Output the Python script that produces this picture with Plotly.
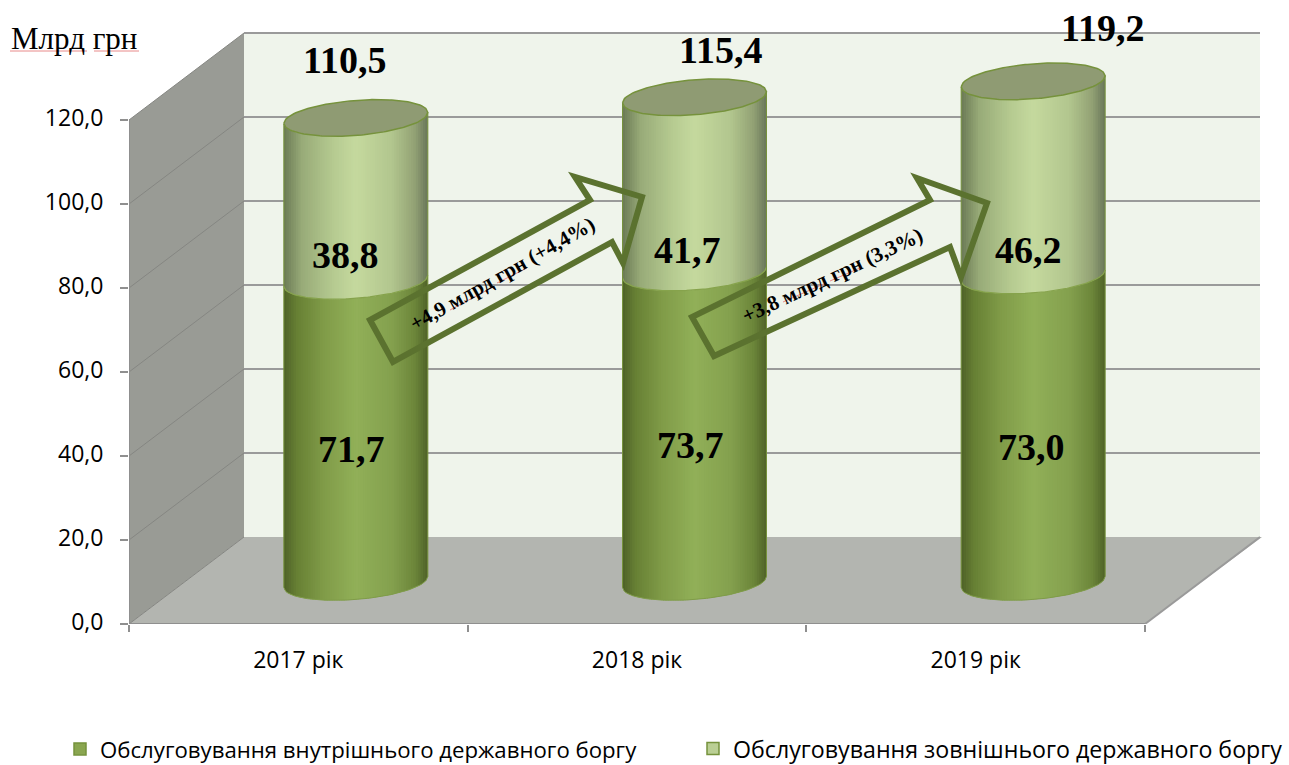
import math
import plotly.graph_objects as go

categories = ["2017 рік", "2018 рік", "2019 рік"]
internal_debt = [71.7, 73.7, 73.0]
external_debt = [38.8, 41.7, 46.2]
totals = [110.5, 115.4, 119.2]
y_ticks = [0, 20, 40, 60, 80, 100, 120]
series_names = ["Обслуговування внутрішнього державного боргу",
                "Обслуговування зовнішнього державного боргу"]
arrow_labels = ["+4,9 млрд грн (+4,4%)", "+3,8 млрд грн (3,3%)"]

W, H = 1289, 765
L, R, T, B = 129, 1262, 10, 624
X_UNIT = (1145 - 129) / 3.0
Y_UNIT = 4.2
DX = 115 / X_UNIT
DY = 87 / Y_UNIT
HALF_W = 72 / X_UNIT
ELL_B = 17.5 / Y_UNIT
SHEAR = 5.5 / Y_UNIT
OFFX = DX / 2
OFFY = 10.0
N = 60


def dx(p):
    return (p - L) / X_UNIT


def dy(p):
    return (B - p) / Y_UNIT


def ramp(stops, u):
    for (a, ca), (b, cb) in zip(stops, stops[1:]):
        if a <= u <= b:
            t = (u - a) / (b - a)
            c = [round(ca[k] + (cb[k] - ca[k]) * t) for k in range(3)]
            return f"rgb({c[0]},{c[1]},{c[2]})"
    return "rgb(0,0,0)"


LOW = [(-1, (78, 97, 40)), (-.82, (103, 128, 52)), (-.45, (128, 155, 72)), (0, (145, 176, 88)),
       (.5, (132, 160, 78)), (.82, (108, 134, 58)), (1, (79, 98, 40))]
UPP = [(-1, (107, 122, 85)), (-.75, (152, 171, 120)), (-.3, (182, 203, 145)), (0, (197, 217, 158)),
       (.5, (178, 198, 142)), (.82, (146, 161, 116)), (1, (105, 118, 90))]


def arc(v, u, sign):
    return v + OFFY + SHEAR * u + sign * ELL_B * math.sqrt(max(0, 1 - u * u))


fig = go.Figure()

# real bars, underneath the shaded cylinder surface
base_low = [OFFY] * 3
base_up = [OFFY + v for v in internal_debt]
xc = [i + 0.5 + OFFX for i in range(3)]
fig.add_trace(go.Bar(x=xc, y=internal_debt, base=base_low, width=HALF_W * 1.6, name=series_names[0], legend="legend",
                     marker=dict(color="#8aa650", line=dict(color="#76923c", width=1.5)), hoverinfo="skip"))
fig.add_trace(go.Bar(x=xc, y=external_debt, base=base_up, width=HALF_W * 1.6, name=series_names[1], legend="legend2",
                     marker=dict(color="#bacf94", line=dict(color="#76923c", width=1.5)), hoverinfo="skip"))

# gradient strips
for stops, lows, highs in ((LOW, [0, 0, 0], internal_debt), (UPP, internal_debt, totals)):
    for k in range(N):
        u0, u1 = -1 + 2 * k / N, -1 + 2 * (k + 1) / N
        um = (u0 + u1) / 2
        u2 = min(1, u1 + 0.012)
        xs, ys = [], []
        for c, lo, hi in zip(xc, lows, highs):
            xs += [c + HALF_W * u for u in (u0, um, u2, u2, um, u0, u0)] + [None]
            ys += [arc(lo, u0, -1), arc(lo, um, -1), arc(lo, u2, -1),
                   arc(hi, u2, -1), arc(hi, um, -1), arc(hi, u0, -1), arc(lo, u0, -1), None]
        fig.add_trace(go.Scatter(x=xs, y=ys, mode="lines", fill="toself", fillcolor=ramp(stops, um),
                                 line=dict(width=0), showlegend=False, hoverinfo="skip"))

# edges, division arcs and top faces
us = [-1 + 2 * k / 72 for k in range(73)]
for c, a, b, t in zip(xc, [0, 0, 0], internal_debt, totals):
    fig.add_trace(go.Scatter(x=[c + HALF_W * u for u in us], y=[arc(a, u, -1) for u in us], mode="lines",
                             line=dict(color="#7f9c48", width=1), showlegend=False, hoverinfo="skip"))
    fig.add_trace(go.Scatter(x=[c + HALF_W * u for u in us], y=[arc(b, u, -1) for u in us], mode="lines",
                             line=dict(color="#86a34c", width=1.2), showlegend=False, hoverinfo="skip"))
    fig.add_trace(go.Scatter(x=[c - HALF_W, c - HALF_W, None, c + HALF_W, c + HALF_W],
                             y=[arc(a, -1, 1), arc(t, -1, 1), None, arc(a, 1, 1), arc(t, 1, 1)], mode="lines",
                             line=dict(color="#76923c", width=1), showlegend=False, hoverinfo="skip"))
    ring = us + us[::-1]
    fig.add_trace(go.Scatter(x=[c + HALF_W * u for u in ring],
                             y=[arc(t, u, 1) for u in us] + [arc(t, u, -1) for u in us[::-1]],
                             mode="lines", fill="toself", fillcolor="#8f9b73",
                             line=dict(color="#76923c", width=1.5), showlegend=False, hoverinfo="skip"))

shapes = []


def poly(points, fill=None, line=None, width=0, layer="below", close=True):
    path = "M " + " L ".join(f"{dx(px)} {dy(py)}" for px, py in points) + (" Z" if close else "")
    shapes.append(dict(type="path", path=path, xref="x", yref="y", layer=layer,
                       fillcolor=fill if fill else "rgba(0,0,0,0)",
                       line=dict(color=line if line else "rgba(0,0,0,0)", width=width)))


def seg(x0, y0, x1, y1, color, width, layer="below"):
    shapes.append(dict(type="line", xref="x", yref="y", x0=x0, y0=y0, x1=x1, y1=y1, layer=layer,
                       line=dict(color=color, width=width)))


# back wall, floor and side wall
shapes.append(dict(type="rect", xref="x", yref="y", x0=DX, x1=3 + DX, y0=DY, y1=120 + DY, layer="below",
                   fillcolor="#eff4eb", line=dict(width=0)))
poly([(129, 624), (244, 537), (1262, 537), (1145, 624)], fill="#b3b5b0")
poly([(129, 120), (244, 33), (244, 537), (129, 624)], fill="#999b95")
for t in y_ticks[1:]:
    seg(DX, t + DY, 3 + DX, t + DY, "#9a9a9a", 2)
for t in y_ticks:
    seg(0, t, DX, t + DY, "#858682", 1)
seg(0, 0, 0, 120, "#8f8f8f", 2)
seg(0, 0, 3, 0, "#8f8f8f", 2)
seg(3, 0, 3 + DX, DY, "#9a9a9a", 2)

# arrows
ARROW = "#5b722f"
poly([(370, 320), (393, 362), (612, 242), (623, 263), (642, 197), (575, 177), (590, 200)],
     line=ARROW, width=6, layer="above")
poly([(692, 317), (714, 356), (950, 247), (961, 277), (987, 203), (917, 178), (930, 200)],
     line=ARROW, width=6, layer="above")


# spell-check underlines
def squiggle(x0, y0, x1, y1):
    shapes.append(dict(type="line", xref="paper", yref="paper", layer="above",
                       x0=(x0 - L) / (R - L), x1=(x1 - L) / (R - L),
                       y0=(B - y0) / (B - T), y1=(B - y1) / (B - T),
                       line=dict(color="#e88a8a", width=1)))


squiggle(10, 51, 87, 51)
squiggle(94, 51, 139, 51)
squiggle(450, 310, 493, 287)
squiggle(497, 283, 527, 268)
squiggle(783, 302, 826, 283)
squiggle(830, 281, 860, 268)

SERIF = "Liberation Serif"
anns = []


def note(px, py, text, size, bold=True, angle=0):
    anns.append(dict(x=(px - L) / (R - L), y=(B - py) / (B - T), xref="paper", yref="paper",
                     text=f"<b>{text}</b>" if bold else text,
                     showarrow=False, textangle=angle, xanchor="center", yanchor="middle",
                     font=dict(family=SERIF, size=size, color="#000000")))


fmt = lambda v: f"{v:.1f}".replace(".", ",")
for v, (px, py) in zip(totals, [(344, 60), (720, 50), (1102, 28)]):
    note(px, py, fmt(v), 38)
for v, (px, py) in zip(external_debt, [(345, 255), (687, 250), (1028, 250)]):
    note(px, py, fmt(v), 38)
for v, (px, py) in zip(internal_debt, [(351, 449), (690, 445), (1031, 447)]):
    note(px, py, fmt(v), 38)
note(74, 38, "Млрд грн", 31, bold=False)
note(502, 274, arrow_labels[0], 21, angle=-29.5)
note(833, 275, arrow_labels[1], 21, angle=-25)

TICK = dict(family="Open Sans", size=23, color="#000000")
fig.update_layout(
    width=W, height=H, autosize=False, barmode="overlay",
    margin=dict(l=L, r=W - R, t=T, b=H - B, pad=0),
    paper_bgcolor="#ffffff", plot_bgcolor="#ffffff",
    shapes=shapes, annotations=anns,
    xaxis=dict(range=[0, (R - L) / X_UNIT], tickmode="array", tickvals=[0.5, 1.5, 2.5], ticktext=categories,
               showgrid=False, zeroline=False, showline=False, ticks="outside", ticklen=15,
               tickcolor="rgba(0,0,0,0)", tickfont=TICK, tickangle=0,
               minor=dict(tickmode="array", tickvals=[0, 1, 2, 3], ticks="outside", ticklen=7,
                          tickwidth=2, tickcolor="#8f8f8f", showgrid=False)),
    yaxis=dict(range=[0, (B - T) / Y_UNIT], tickmode="array", tickvals=y_ticks,
               ticktext=[f"{t:.1f}".replace(".", ",") for t in y_ticks],
               showgrid=False, zeroline=False, showline=False, ticks="outside", ticklen=8,
               tickwidth=2, tickcolor="#8f8f8f", tickfont=TICK, ticklabelstandoff=12, ticklabelshift=-2),
    legend=dict(orientation="h", x=60 / W, xref="container", y=1 - 749 / H, yref="container", yanchor="middle",
                xanchor="left", font=dict(family="Open Sans", size=22.2, color="#000000"),
                itemclick=False, itemdoubleclick=False, bgcolor="rgba(0,0,0,0)"),
    legend2=dict(orientation="h", x=693 / W, xref="container", y=1 - 749 / H, yref="container", yanchor="middle",
                 xanchor="left", font=dict(family="Open Sans", size=23.2, color="#000000"),
                 itemclick=False, itemdoubleclick=False, bgcolor="rgba(0,0,0,0)"),
    showlegend=True,
)

fig.write_html("out.html", config={"displayModeBar": False},
               post_script="document.body.style.margin='0';document.body.style.overflow='hidden';")
